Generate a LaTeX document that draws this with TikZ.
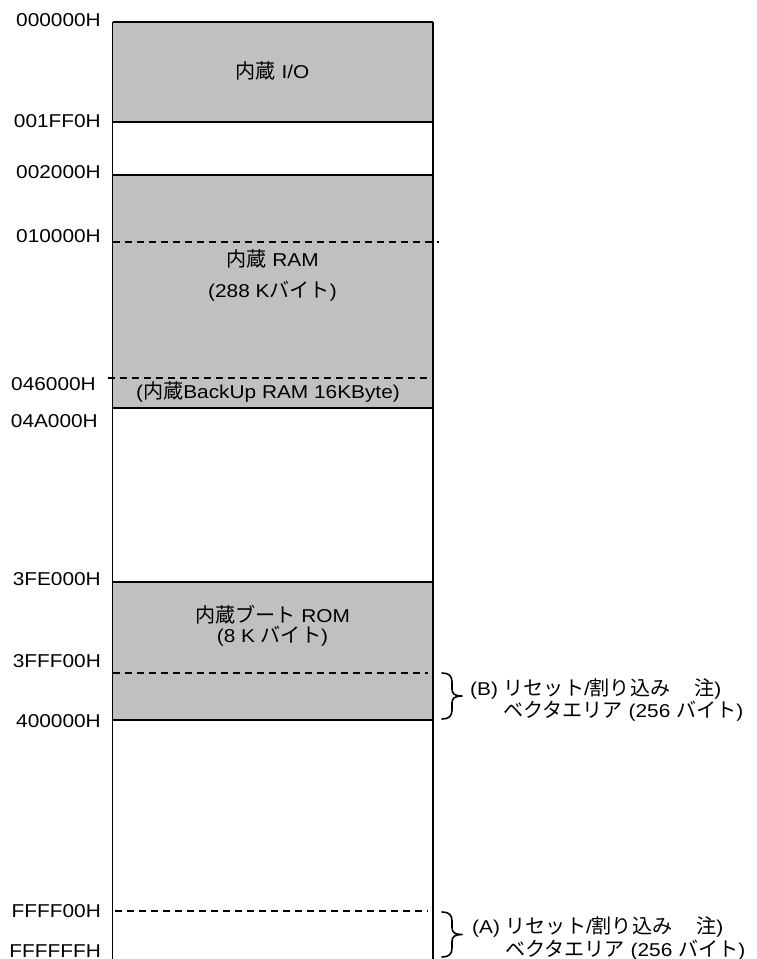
\documentclass[tikz,border=0pt]{standalone}
\usepackage{fontspec}
\setmainfont{Liberation Sans}[FakeStretch=1.12]
\newfontfamily\jp{Noto Sans CJK JP}[Scale=1.08]
\usepackage{tikz}
\usetikzlibrary{calc}
\usepackage{xcolor}
\definecolor{memGray}{HTML}{C0C0C0}
\def\boxL{112.5}
\def\boxR{433}
\def\fScale{\fontsize{18.6pt}{22pt}\selectfont}
\def\lineThickness{(1.6pt)}
\def\braceX{442}
\tikzset{area/.style={fill=memGray,draw=none}}
\tikzset{bound/.style={black,line width=\lineThickness}}
\tikzset{dsh/.style={black,line width=1.3pt,dash pattern=on 7pt off 5pt}}
\tikzset{addr/.style={anchor=base east,inner sep=0,font=\fScale}}
\tikzset{lbl/.style={anchor=base,inner sep=0,font=\fScale}}
\tikzset{note/.style={anchor=base west,inner sep=0,font=\fScale}}
\tikzset{brc/.style={black,line width=\lineThickness,line join=round,line cap=round}}
\newcommand{\addr}[3]{\node[addr] (#1) at (101,#2) {#3};}
\newcommand{\vbrace}[3]{\draw[brc] (#1) .. controls ($(#1)+(7,0)$) and ($(#1)+(10,3)$) .. ($(#1)+(10,9)$) -- ($(#2)+(10,-7)$) .. controls ($(#2)+(10,-2)$) and ($(#2)+(13,0)$) .. ($(#2)+(20,0)$) .. controls ($(#2)+(13,0)$) and ($(#2)+(10,2)$) .. ($(#2)+(10,7)$) -- ($(#3)+(10,-9)$) .. controls ($(#3)+(10,-3)$) and ($(#3)+(7,0)$) .. (#3);}

\begin{document}
\begin{tikzpicture}[x=1pt,y=-1pt]\useasboundingbox (0,0) rectangle (757,959);
% shaded blocks
\fill[area] (\boxL,22) rectangle (\boxR,122);\fill[area] (\boxL,175) rectangle (\boxR,408);\fill[area] (\boxL,582) rectangle (\boxR,720);
\draw[bound] (\boxL,22)--(\boxL,975);\draw[bound] (\boxR,22)--(\boxR,975);
\foreach\y in {22,122,175,408,582,720}{\draw[bound] (\boxL,\y)--(\boxR,\y);};
\draw[dsh] (\boxL,242)--(439,242);
\draw[dsh] (108,378)--(\boxR,378);
\draw[dsh] (\boxL,673)--(428,673);
\draw[dsh] (115,911)--(428,911);
% addresses
\addr{a0}{26.7}{000000H}
\addr{a1}{127.7}{001FF0H}
\addr{a2}{178.7}{002000H}
\addr{a3}{242.7}{010000H}
\node[addr] (a4) at (96,390) {046000H};
\node[addr] (a5) at (98,427.5) {04A000H};
\addr{a6}{585}{3FE000H}
\addr{a7}{667}{3FFF00H}
\addr{a8}{727}{400000H}
\addr{a9}{917.5}{FFFF00H}
\addr{a10}{957}{FFFFFFH}
% block names
\node[lbl] (io) at (272.5,78) {{\jp 内蔵} I/O};
\node[lbl] (ram) at (272.5,266) {{\jp 内蔵} RAM};
\node[lbl] (ramSz) at (272.5,297) {(288 K{\jp バイト})};
\node[lbl] (bkup) at (268,398) {({\jp 内蔵}BackUp RAM 16KByte)};
\node[lbl] (rom) at (272.5,622) {{\jp 内蔵ブート} ROM};
\node[lbl] (romSz) at (272.5,642) {(8 K {\jp バイト})};
% vector areas
\coordinate (bTop) at (\braceX,673);\coordinate (bBot) at (\braceX,719);\coordinate (bMid) at ($(bTop)!0.5!(bBot)$);
\coordinate (aTop) at (\braceX,912);\coordinate (aBot) at (\braceX,957);\coordinate (aMid) at ($(aTop)!0.5!(aBot)$);
\vbrace{bTop}{bMid}{bBot}
\vbrace{aTop}{aMid}{aBot}
\node[note] (vecB1) at (470,695) {(B) {\jp リセット}/{\jp 割り込み}\hspace{24pt}{\jp 注})};
\node[note] (vecB2) at (503,717) {{\jp ベクタエリア} (256 {\jp バイト})};
\node[note] (vecA1) at (472,933) {(A) {\jp リセット}/{\jp 割り込み}\hspace{24pt}{\jp 注})};
\node[note] (vecA2) at (505,956) {{\jp ベクタエリア} (256 {\jp バイト})};
\end{tikzpicture}
\end{document}
